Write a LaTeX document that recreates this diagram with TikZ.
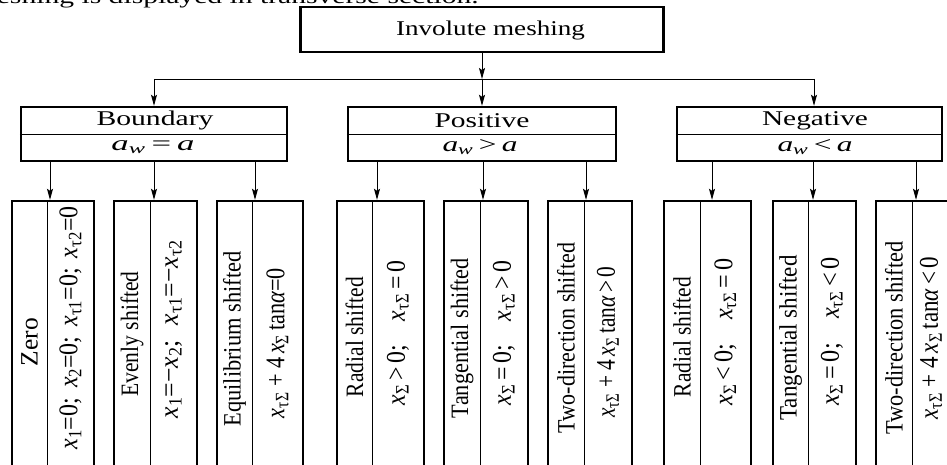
\documentclass[tikz,border=0pt]{standalone}
\usepackage{graphicx}
\usepackage{fontspec}
\setmainfont{Liberation Serif}
\usetikzlibrary{arrows.meta}
\newcommand{\hfnt}{\fontsize{21}{23}\selectfont}
\newcommand{\tfnt}{\fontsize{25}{27}\selectfont}
\newcommand{\ffnt}{\fontsize{27}{29}\selectfont}
\newcommand{\fitw}[2]{\resizebox{#1pt}{\height}{#2}}
\newcommand{\xsub}[1]{\textit{x}\textsubscript{#1}}
\newcommand{\aw}{\textit{a}\textsubscript{\textit{w}}}
\begin{document}
\begin{tikzpicture}[x=1pt,y=-1pt,
  outer/.style={draw, line width=2.4pt, inner sep=0pt},
  colbox/.style={draw, line width=2.4pt, inner sep=0pt, minimum height=300pt},
  thinl/.style={line width=0.9pt},
  conn/.style={line width=0.9pt, -{Stealth[length=11pt,width=6pt,inset=2pt]}},
  htext/.style={inner sep=0pt, font=\hfnt},
  ttext/.style={inner sep=0pt, font=\tfnt, rotate=90},
  ftext/.style={inner sep=0pt, font=\ffnt, rotate=90}]
\useasboundingbox (0,0) rectangle (947,465);
\clip (0,0) rectangle (947,465);

% cut-off caption line at the top
\node[htext, anchor=base east] (cap) at (479,4) {\fitw{505}{meshing is displayed in transverse section.}};

% root
\node[outer, minimum width=363pt, minimum height=45pt] (top) at (482,29.5) {};
\node[htext] (toptxt) at (490.5,30) {\fitw{189}{Involute meshing}};

% group headers
\node[outer, minimum width=266pt, minimum height=54pt] (bnd) at (154,134) {};
\node[outer, minimum width=268pt, minimum height=54pt] (pos) at (482,134) {};
\node[outer, minimum width=265pt, minimum height=54pt] (neg) at (809.5,134) {};
\draw[thinl] (bnd.west) -- (bnd.east);
\draw[thinl] (pos.west) -- (pos.east);
\draw[thinl] (neg.west) -- (neg.east);
\node[htext] (bndt) at (155,120.5) {\fitw{117}{Boundary}};
\node[htext] (bndf) at (153,147) {\fitw{83}{\aw\,=\,\textit{a}}};
\node[htext] (post) at (482,120.5) {\fitw{95}{Positive}};
\node[htext] (posf) at (480,147) {\fitw{75}{\aw\,>\,\textit{a}}};
\node[htext] (negt) at (815,120.5) {\fitw{106}{Negative}};
\node[htext] (negf) at (815,147) {\fitw{75}{\aw\,<\,\textit{a}}};

% tree connectors
\coordinate (j0) at (482,79);
\coordinate (jb) at (154,79);
\coordinate (jn) at (814,79);
\draw[conn] (top.south) -- (j0);
\draw[thinl] (jb) -- (jn);
\draw[conn] (jb) -- (jb |- bnd.north);
\draw[conn] (j0) -- (pos.north);
\draw[conn] (jn) -- (jn |- neg.north);

% leaf columns: name/left/divider/right/arrow x/parent/title y/formula y/title length/formula length/title/formula
\foreach \n/\L/\D/\R/\A/\p/\ty/\fy/\tlen/\flen/\ttl/\ffm in {
  c1/12/47/94/50/bnd/342/328/48/243/{Zero}/{\xsub{1}=0;\, \xsub{2}=0;\, \xsub{τ1}=0;\, \xsub{τ2}=0},
  c2/114/150/197/154/bnd/334/329/125/178/{Evenly shifted}/{\xsub{1}=−\xsub{2};\,\, \xsub{τ1}=−\xsub{τ2}},
  c3/217/252/303/255/bnd/339/343/175/150/{Equilibrium shifted}/{\xsub{τΣ} + 4\,\xsub{Σ}\,tan\textit{α}=0},
  c4/337/372/424/377/pos/337/333/120/145/{Radial shifted}/{\xsub{Σ}\,>\,0;\quad \xsub{τΣ}\,=\,0},
  c5/444/480/528/483/pos/338/333/160/145/{Tangential shifted}/{\xsub{Σ}\,=\,0;\quad \xsub{τΣ}\,>\,0},
  c6/548/584/632/586/pos/338/342/190/151/{Two-direction shifted}/{\xsub{τΣ} + 4\,\xsub{Σ}\,tan\textit{α}\,>\,0},
  c7/664/700/751/712/neg/337/332/120/147/{Radial shifted}/{\xsub{Σ}\,<\,0;\quad \xsub{τΣ}\,=\,0},
  c8/773/808/856/813/neg/338/331/165/148/{Tangential shifted}/{\xsub{Σ}\,=\,0;\quad \xsub{τΣ}\,<\,0},
  c9/876/912/960/916/neg/338/338/193/163/{Two-direction shifted}/{\xsub{τΣ} + 4\,\xsub{Σ}\,tan\textit{α}\,<\,0}}
{
  \pgfmathsetmacro{\w}{\R-\L}
  \pgfmathsetmacro{\cx}{(\L+\R)/2}
  \pgfmathsetmacro{\tx}{(\L+\D)/2}
  \pgfmathsetmacro{\fx}{min((\D+\R)/2,931)}
  \node[colbox, minimum width=\w pt] (\n) at (\cx,351) {};
  \draw[thinl] (\D,201) -- (\D,501);
  \node[ttext] (\n t) at (\tx,\ty) {\fitw{\tlen}{\ttl}};
  \node[ftext] (\n f) at (\fx,\fy) {\fitw{\flen}{\ffm}};
  \draw[conn] (\A,0 |- \p.south) -- (\A,0 |- \n.north);
}
\end{tikzpicture}
\end{document}
